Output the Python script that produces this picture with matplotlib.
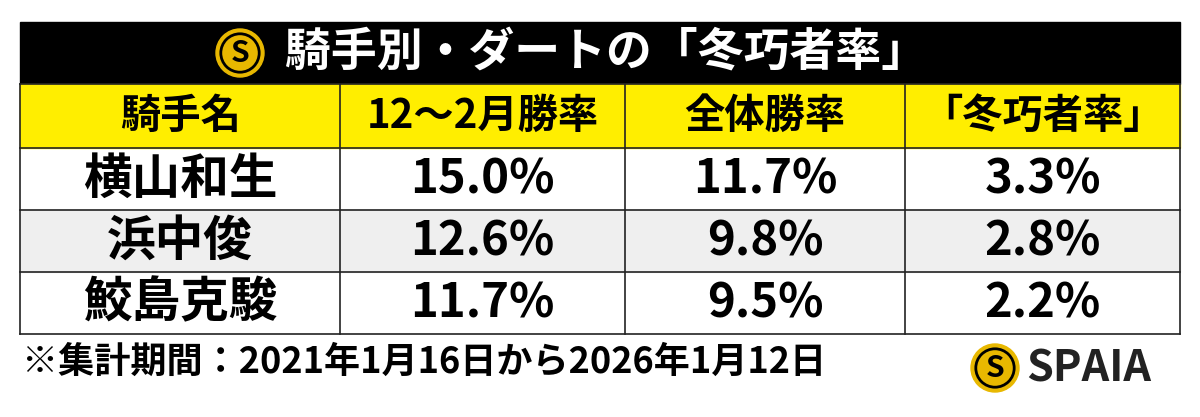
import matplotlib
matplotlib.use("Agg")
import matplotlib.pyplot as plt
from matplotlib.patches import Rectangle, Circle

plt.rcParams['font.family'] = ['Noto Sans CJK JP', 'DejaVu Sans']

title = "騎手別・ダートの「冬巧者率」"
headers = ["騎手名", "12～2月勝率", "全体勝率", "「冬巧者率」"]
jockeys = ["横山和生", "浜中俊", "鮫島克駿"]
winter_rate = [15.0, 12.6, 11.7]
overall_rate = [11.7, 9.8, 9.5]
winter_skill = [3.3, 2.8, 2.2]
footnote = "※集計期間：2021年1月16日から2026年1月12日"

fig = plt.figure(figsize=(12, 4.17), dpi=100)
ax = fig.add_axes([0, 0, 1, 1])
ax.set_xlim(0, 1200); ax.set_ylim(417, 0); ax.axis('off')

L, R = 20, 1180
cols = [L, 340, 625, 905, R]
ax.add_patch(Rectangle((L, 22), R - L, 62, color='black'))
ax.text(285, 52, title, color='white', fontsize=33, fontweight='bold', ha='left', va='center')
def logo(x, y, r):
    ax.add_patch(Circle((x, y), r, color='#e8b800', zorder=3))
    ax.add_patch(Circle((x, y), r * 0.8, fill=False, lw=2, ec='black', zorder=4))
    ax.text(x, y, "S", fontsize=r * 0.9, fontweight='bold', ha='center', va='center', color='black', zorder=5)
logo(240, 53, 24)

rows_y = [84, 148, 210, 272, 334]
ax.add_patch(Rectangle((L, 84), R - L, 64, color='#ffee00'))
ax.add_patch(Rectangle((L, 210), R - L, 62, color='#efefef'))
for y in rows_y:
    ax.plot([L, R], [y, y], color='#222222', lw=1.2)
for x in cols:
    ax.plot([x, x], [84, 334], color='#222222', lw=1.2)

for i, h in enumerate(headers):
    ax.text((cols[i] + cols[i + 1]) / 2, 116, h, fontsize=29, fontweight='bold', ha='center', va='center')
for r in range(3):
    yc = (rows_y[r + 1] + rows_y[r + 2]) / 2
    vals = [jockeys[r], f"{winter_rate[r]:.1f}%", f"{overall_rate[r]:.1f}%", f"{winter_skill[r]:.1f}%"]
    for i, v in enumerate(vals):
        fs = 35 if i == 0 else 34
        ax.text((cols[i] + cols[i + 1]) / 2, yc, v, fontsize=fs, fontweight='bold', ha='center', va='center')

ax.text(22, 362, footnote, fontsize=26, fontweight='bold', ha='left', va='center')
logo(995, 368, 24)
ax.text(1026, 369, "SPAIA", fontsize=31, fontweight='bold', ha='left', va='center', color='#222222')

fig.savefig("out.png", dpi=100)
